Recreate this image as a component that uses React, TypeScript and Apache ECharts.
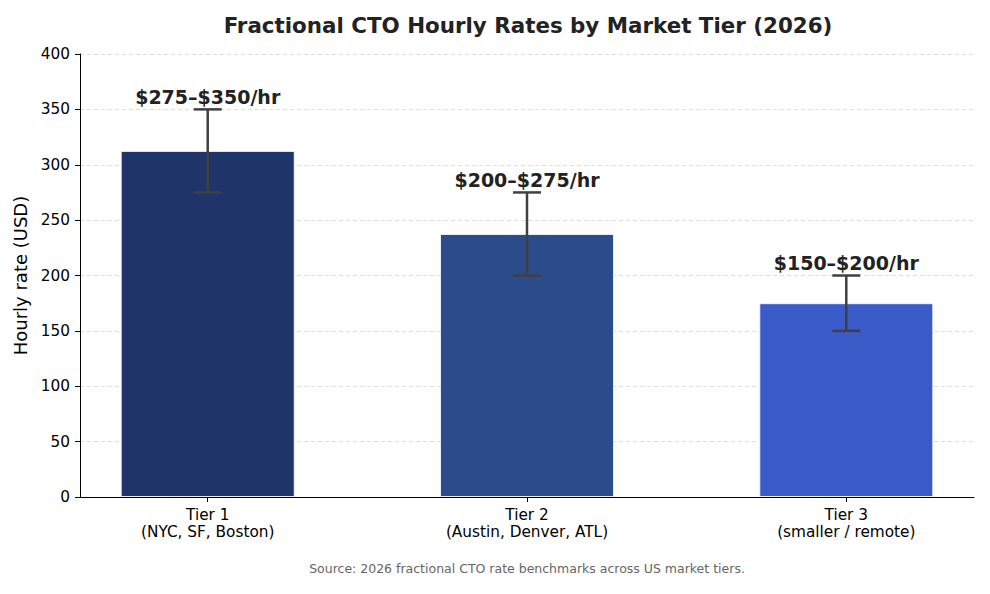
import React, { useEffect, useRef } from "react";
import * as echarts from "echarts";

const categories = ["Tier 1\n(NYC, SF, Boston)", "Tier 2\n(Austin, Denver, ATL)", "Tier 3\n(smaller / remote)"];
const positions = [0, 1, 2];
const midRates = [312.5, 237.5, 175];
const lowRates = [275, 200, 150];
const highRates = [350, 275, 200];
const rangeLabels = ["$275–$350/hr", "$200–$275/hr", "$150–$200/hr"];
const barColors = ["#1f3468", "#2c4b8b", "#3b5cc8"];

const FONT = "DejaVu Sans";

export default function App() {
  const ref = useRef<HTMLDivElement>(null);
  useEffect(() => {
    if (!ref.current) return;
    const chart = echarts.init(ref.current, undefined, { renderer: "svg" });
    chart.setOption({
      animation: false,
      backgroundColor: "#ffffff",
      title: {
        text: "Fractional CTO Hourly Rates by Market Tier (2026)",
        left: 523,
        textAlign: "center",
        top: 10,
        textStyle: { fontFamily: FONT, fontSize: 21.4, fontWeight: "bold", color: "#222222" },
      },
      graphic: [
        {
          type: "text",
          x: 527,
          y: 562,
          style: {
            text: "Source: 2026 fractional CTO rate benchmarks across US market tiers.",
            fontFamily: FONT,
            fontSize: 12.5,
            fill: "#666666",
            textAlign: "center",
          },
        },
      ],
      grid: { left: 80, right: 16, top: 54, bottom: 97 },
      xAxis: {
        type: "value",
        min: -0.4,
        max: 2.4,
        splitLine: { show: false },
        axisLine: { show: true, onZero: false, lineStyle: { color: "#000000", width: 1 } },
        axisTick: { show: true, customValues: positions, length: 5, lineStyle: { color: "#000000" } },
        axisLabel: {
          customValues: positions,
          formatter: (v: number) => categories[Math.round(v)] ?? "",
          fontFamily: FONT,
          fontSize: 15.3,
          color: "#000000",
          lineHeight: 17.5,
          margin: 9,
        },
      },
      yAxis: {
        type: "value",
        min: 0,
        max: 400,
        interval: 50,
        name: "Hourly rate (USD)",
        nameLocation: "middle",
        nameGap: 47,
        nameTextStyle: { fontFamily: FONT, fontSize: 18, color: "#000000" },
        axisLine: { show: true, onZero: false, lineStyle: { color: "#000000", width: 1 } },
        axisTick: { show: true, length: 5, lineStyle: { color: "#000000" } },
        axisLabel: { fontFamily: FONT, fontSize: 15.3, color: "#000000", margin: 10 },
        splitLine: { show: true, lineStyle: { color: "#dddddd", type: [4, 3], width: 1 } },
      },
      series: [
        {
          type: "bar",
          data: positions.map((p, i) => ({
            value: [p, midRates[i]],
            itemStyle: { color: barColors[i], borderColor: "rgba(255,255,255,0.8)", borderWidth: 1 },
          })),
          barWidth: 174,
          z: 2,
        },
        {
          type: "custom",
          z: 5,
          data: positions.map((p, i) => [p, lowRates[i], highRates[i], i]),
          renderItem: (params: any, api: any) => {
            const x = api.value(0);
            const lo = api.coord([x, api.value(1)]);
            const hi = api.coord([x, api.value(2)]);
            const idx = api.value(3);
            const cap = 14;
            const style = { stroke: "#404040", lineWidth: 2.5 };
            return {
              type: "group",
              children: [
                { type: "line", shape: { x1: lo[0], y1: lo[1], x2: hi[0], y2: hi[1] }, style },
                { type: "line", shape: { x1: lo[0] - cap, y1: lo[1], x2: lo[0] + cap, y2: lo[1] }, style },
                { type: "line", shape: { x1: hi[0] - cap, y1: hi[1], x2: hi[0] + cap, y2: hi[1] }, style },
                {
                  type: "text",
                  style: {
                    x: hi[0],
                    y: hi[1] - 3,
                    text: rangeLabels[idx],
                    textAlign: "center",
                    textVerticalAlign: "bottom",
                    fontFamily: FONT,
                    fontSize: 19,
                    fontWeight: "bold",
                    fill: "#222222",
                  },
                },
              ],
            };
          },
        },
      ],
    });
    return () => chart.dispose();
  }, []);
  return <div ref={ref} style={{ width: 990, height: 594, position: "absolute", left: 0, top: 0 }} />;
}
